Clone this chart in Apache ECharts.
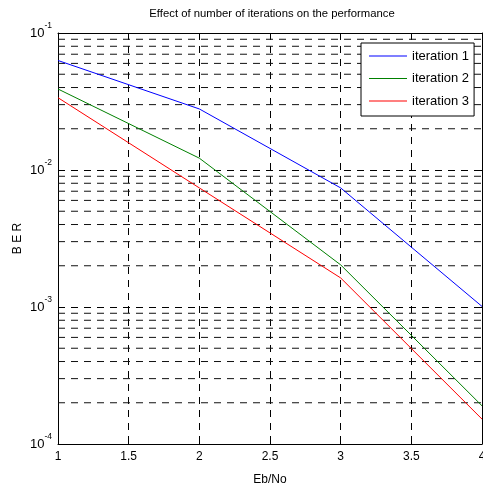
<!DOCTYPE html>
<html><head><meta charset="utf-8">
<script src="https://cdn.jsdelivr.net/npm/echarts@6/dist/echarts.min.js"></script>
<style>html,body{margin:0;padding:0;background:#fff}#c{width:483px;height:486px}</style>
</head><body><div id="c"></div>
<script>
const ebno = [1, 2, 3, 4];
const iter1 = [0.063, 0.0279, 0.0074, 0.00101];
const iter2 = [0.039, 0.0122, 0.00203, 0.00019];
const iter3 = [0.0337, 0.0074, 0.00163, 0.000152];
const seriesNames = ['iteration 1', 'iteration 2', 'iteration 3'];
const seriesColors = ['#0000ff', '#008000', '#ff0000'];
const minorDecades = [-4, -3, -2];
const minorMultipliers = [2, 3, 4, 5, 6, 7, 8, 9];
const xRange = [1, 4];

const FONT = '"Liberation Sans", Arial, sans-serif';
const dash = [7, 6];

const minorValues = [];
minorDecades.forEach(d => minorMultipliers.forEach(m => minorValues.push(m * Math.pow(10, d))));

const series = [];
// minor log grid lines (dashed), drawn through the axes' scales
minorValues.forEach(v => {
  series.push({
    name: 'minor-' + v,
    type: 'line',
    data: xRange.map(x => [x, v]),
    symbol: 'none',
    silent: true,
    z: 1,
    lineStyle: { color: '#111', type: dash, width: 1 },
    emphasis: { disabled: true },
    tooltip: { show: false }
  });
});
[iter1, iter2, iter3].forEach((vals, i) => series.push({
  name: seriesNames[i],
  type: 'line',
  data: ebno.map((x, j) => [x, vals[j]]),
  symbol: 'none',
  lineStyle: { color: seriesColors[i], width: 1 },
  itemStyle: { color: seriesColors[i] },
  emphasis: { disabled: true },
  z: 3
}));

const chart = echarts.init(document.getElementById('c'));
chart.setOption({
  animation: false,
  backgroundColor: '#fff',
  textStyle: { fontFamily: FONT },
  title: {
    text: 'Effect of number of iterations on the performance',
    left: 267, top: 3, textAlign: 'center',
    textStyle: { fontFamily: FONT, fontSize: 11.3, fontWeight: 'normal', color: '#000' }
  },
  grid: { left: 58, top: 33, right: 1, bottom: 42, outerBoundsMode: 'none', containLabel: false },
  legend: {
    orient: 'vertical',
    left: 361, top: 43,
    backgroundColor: '#fff',
    borderColor: '#000', borderWidth: 1, borderRadius: 0,
    padding: [6, 5, 8, 8],
    icon: 'rect',
    itemWidth: 38, itemHeight: 1, itemGap: 8.5,
    textStyle: { fontFamily: FONT, fontSize: 13, color: '#000', lineHeight: 14 },
    data: seriesNames
  },
  xAxis: [{
    type: 'value', min: 1, max: 4, interval: 0.5,
    name: 'Eb/No', nameLocation: 'middle', nameGap: 30, nameMoveOverlap: false,
    nameTextStyle: { fontFamily: FONT, fontSize: 12, color: '#000' },
    axisLine: { show: true, lineStyle: { color: '#000', width: 1 } },
    axisTick: { show: true, inside: true, length: 5, lineStyle: { color: '#000' } },
    axisLabel: { fontFamily: FONT, fontSize: 12, color: '#000', margin: 7, showMaxLabel: true, showMinLabel: true },
    splitLine: { show: true, lineStyle: { color: '#000', type: dash, width: 1 } }
  }, {
    type: 'value', min: 1, max: 4, interval: 0.5, position: 'top',
    axisLine: { show: true, lineStyle: { color: '#000', width: 1 } },
    axisTick: { show: true, inside: true, length: 5, lineStyle: { color: '#000' } },
    axisLabel: { show: false },
    splitLine: { show: false }
  }],
  yAxis: [{
    type: 'log', logBase: 10, min: 1e-4, max: 1e-1,
    name: 'B E R', nameLocation: 'middle', nameGap: 34, nameMoveOverlap: false,
    nameTextStyle: { fontFamily: FONT, fontSize: 12, color: '#000' },
    axisLine: { show: true, lineStyle: { color: '#000', width: 1 } },
    axisTick: { show: true, inside: true, length: 5, lineStyle: { color: '#000' } },
    axisLabel: {
      margin: 6,
      formatter: v => '{a|10}{b|' + Math.round(Math.log10(v)) + '}',
      rich: {
        a: { fontFamily: FONT, fontSize: 13, color: '#000', lineHeight: 24, verticalAlign: 'middle' },
        b: { fontFamily: FONT, fontSize: 8.5, color: '#000', lineHeight: 9, verticalAlign: 'top' }
      }
    },
    splitLine: { show: true, lineStyle: { color: '#000', type: dash, width: 1 } }
  }, {
    type: 'log', logBase: 10, min: 1e-4, max: 1e-1, position: 'right',
    axisLine: { show: true, lineStyle: { color: '#000', width: 1 } },
    axisTick: { show: true, inside: true, length: 5, lineStyle: { color: '#000' } },
    axisLabel: { show: false },
    splitLine: { show: false }
  }],
  series: series
});
</script>
</body></html>
